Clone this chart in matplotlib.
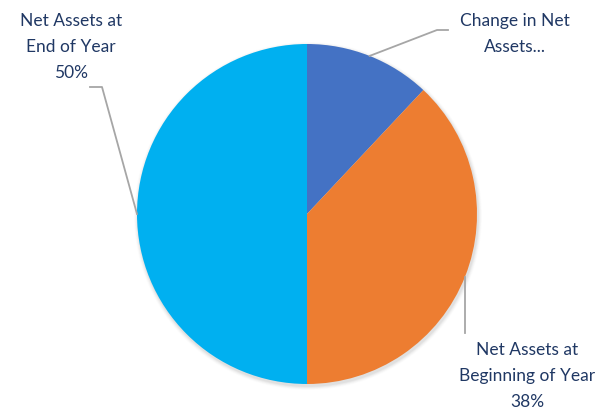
import numpy as np
import matplotlib.pyplot as plt

# Data
labels = ['Change in Net\nAssets...', 'Net Assets at\nBeginning of Year\n38%', 'Net Assets at\nEnd of Year\n50%']
values = [12, 38, 50]
colors = ['#4472C4', '#ED7D31', '#00B0F0']

TEXT_COLOR = '#203864'
LINE_COLOR = '#A6A6A6'

W, H = 606, 410
fig = plt.figure(figsize=(W / 100, H / 100), dpi=100)
fig.patch.set_facecolor('white')
ax = fig.add_axes([0, 0, 1, 1])

cx, cy, r = 307, 195, 170

# soft shadow behind the pie
for k, a in zip(range(5, 0, -1), [0.012, 0.018, 0.024, 0.03, 0.036]):
    ax.add_patch(plt.Circle((cx + 1, cy - 2), r + k * 0.8, color='black',
                            alpha=a, lw=0, zorder=0))

wedges, _ = ax.pie(values, colors=colors, startangle=90, counterclock=False,
                   center=(cx, cy), radius=r, frame=True,
                   wedgeprops=dict(linewidth=0))
ax.set_xlim(0, W)
ax.set_ylim(0, H)
ax.set_aspect('equal')
ax.axis('off')

# label placement: (elbow point, end point, text position) in pixel coords (y up)
label_layout = [
    ((437, H - 31), (448, H - 31), (515, H - 34)),
    (None, None, (527, H - 376)),
    ((102, H - 88), (90, H - 88), (71, H - 47)),
]

for w, lab, (elbow, end, tpos) in zip(wedges, labels, label_layout):
    mid = np.deg2rad((w.theta1 + w.theta2) / 2)
    px, py = cx + r * np.cos(mid), cy + r * np.sin(mid)
    if elbow is not None:
        ax.plot([px, elbow[0], end[0]], [py, elbow[1], end[1]],
                color=LINE_COLOR, lw=1.3, zorder=3)
    else:
        ax.plot([px, px], [py, H - 334], color=LINE_COLOR, lw=1.3, zorder=3)
    ax.text(tpos[0], tpos[1], lab, ha='center', va='center', fontsize=12.5,
            family='Lato', color=TEXT_COLOR, linespacing=1.75)

fig.savefig('out.png', dpi=100, facecolor='white')
